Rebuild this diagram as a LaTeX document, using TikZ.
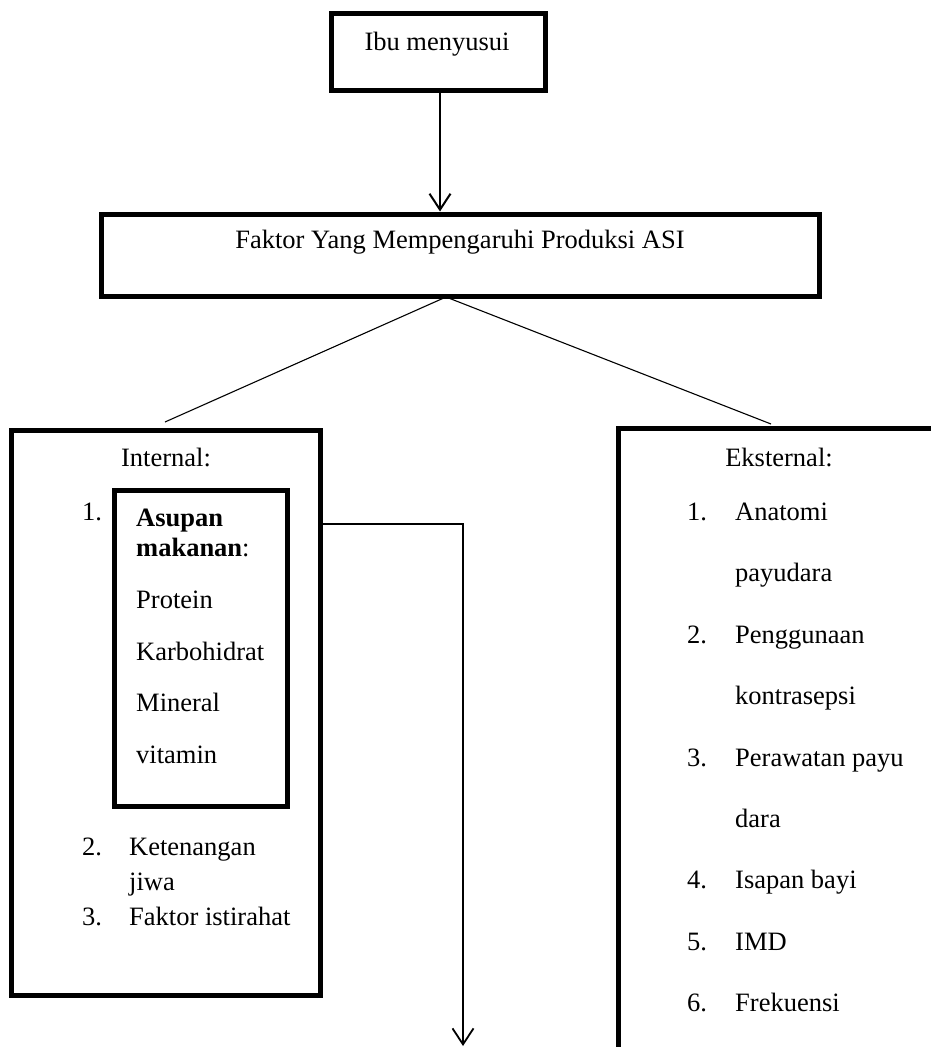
\documentclass[tikz,border=0pt]{standalone}
\usepackage{fontspec}
\setmainfont{Liberation Serif}
\usetikzlibrary{arrows.meta}
\tikzset{
  txt/.style={inner sep=0pt, anchor=base west, font=\fontsize{26.5pt}{32pt}\selectfont},
  ctxt/.style={inner sep=0pt, anchor=base, font=\fontsize{26.5pt}{32pt}\selectfont},
  thickbox/.style={draw, line width=5pt, rectangle, inner sep=0pt},
  arrowline/.style={line width=2pt, -{Straight Barb[length=16pt,width=21pt,line width=2pt]}},
  thinline/.style={line width=1.1pt},
  connline/.style={line width=1.4pt, -{Straight Barb[length=16pt,width=21pt,line width=1.8pt]}}
}
\begin{document}
\begin{tikzpicture}[x=1pt,y=-1pt]
\useasboundingbox (0,0) rectangle (931,1047);
\clip (0,0) rectangle (931,1047);
\fill[white] (0,0) rectangle (931,1047);

% boxes
\node[thickbox, minimum width=214pt, minimum height=77pt] (ibu) at (438,51.5) {};
\node[thickbox, minimum width=718pt, minimum height=82pt] (faktor) at (460,255) {};
\node[thickbox, minimum width=309pt, minimum height=565pt] (internal) at (165.5,712.5) {};
\node[thickbox, minimum width=173pt, minimum height=316pt] (asupan) at (200.5,648) {};
\node[thickbox, minimum width=382pt, minimum height=672pt] (eksternal) at (809,764) {};

% texts
\node[ctxt] (tibu) at (437,50) {Ibu menyusui};
\node[ctxt] (tfaktor) at (460,248) {Faktor Yang Mempengaruhi Produksi ASI};

\node[ctxt] (tint) at (166,466) {Internal:};
\node[txt] (n1) at (82,520) {1.};
\node[txt] (a1) at (136,526) {\bfseries Asupan};
\node[txt] (a2) at (136,556) {\textbf{makanan}:};
\node[txt] (a3) at (136,608) {Protein};
\node[txt] (a4) at (136,660) {Karbohidrat};
\node[txt] (a5) at (136,711) {Mineral};
\node[txt] (a6) at (136,763) {vitamin};
\node[txt] (n2) at (82,855) {2.};
\node[txt] (i2) at (129,855) {Ketenangan};
\node[txt] (i2b) at (129,890) {jiwa};
\node[txt] (n3) at (82,925) {3.};
\node[txt] (i3) at (129,925) {Faktor istirahat};

\node[ctxt] (teks) at (779,466) {Eksternal:};
\node[txt] (e1n) at (687,520) {1.};
\node[txt] (e1) at (735,520) {Anatomi};
\node[txt] (e1b) at (735,581) {payudara};
\node[txt] (e2n) at (687,643) {2.};
\node[txt] (e2) at (735,643) {Penggunaan};
\node[txt] (e2b) at (735,704) {kontrasepsi};
\node[txt] (e3n) at (687,766) {3.};
\node[txt] (e3) at (735,766) {Perawatan payu};
\node[txt] (e3b) at (735,827) {dara};
\node[txt] (e4n) at (687,888) {4.};
\node[txt] (e4) at (735,888) {Isapan bayi};
\node[txt] (e5n) at (687,950) {5.};
\node[txt] (e5) at (735,950) {IMD};
\node[txt] (e6n) at (687,1011) {6.};
\node[txt] (e6) at (735,1011) {Frekuensi};

% connectors
\coordinate (split) at (446,297);
\coordinate (lend) at (165,422);
\coordinate (rend) at (771,424);
\coordinate (jn) at (463,524);
\coordinate (bot) at (463,1046);
\coordinate (down) at (440,92.5);

\draw[arrowline] (down) -- (down |- faktor.north);
\draw[thinline] (split) -- (lend);
\draw[thinline] (split) -- (rend);
\draw[connline] (internal.east |- jn) -- (jn) -- (bot);
\end{tikzpicture}
\end{document}
